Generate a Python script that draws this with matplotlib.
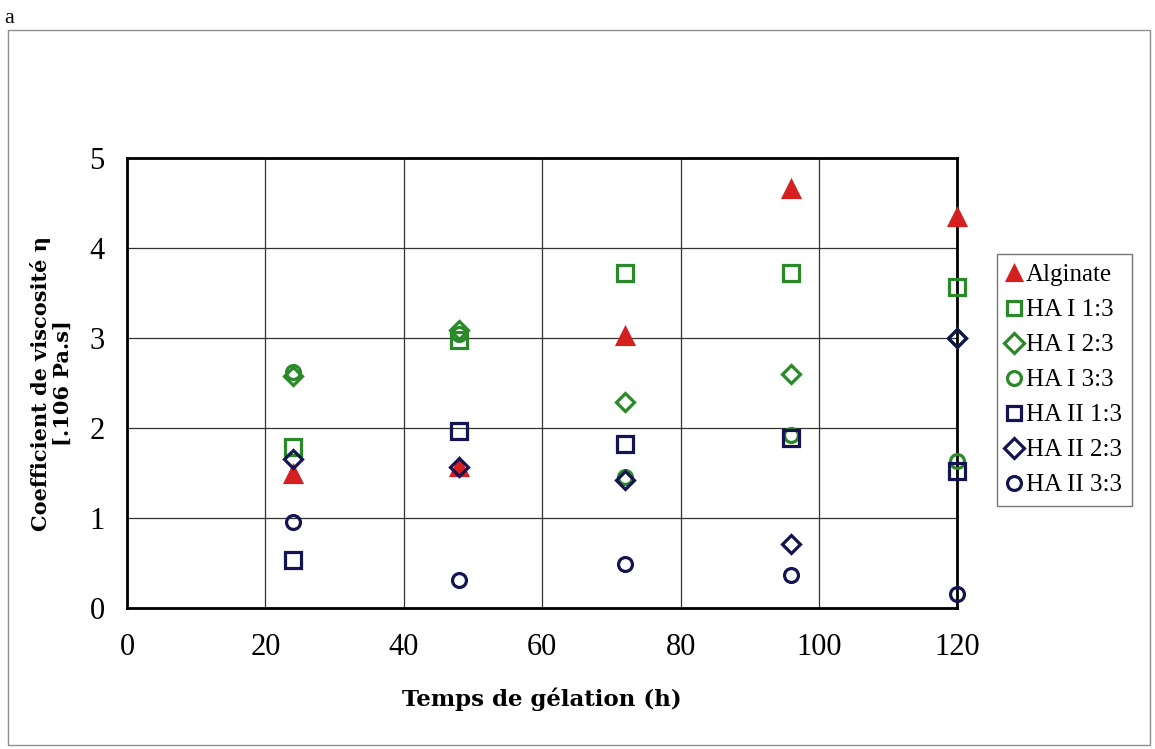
import matplotlib
matplotlib.use("Agg")
import matplotlib.pyplot as plt
from matplotlib.patches import Rectangle

# gelation time (h)
temps = [24, 48, 72, 96, 120]

alginate = [1.49, 1.57, 3.02, 4.66, 4.34]
ha1_13 = [1.79, 2.98, 3.72, 3.72, 3.57]
ha1_23 = [2.58, 3.09, 2.29, 2.60, 3.00]
ha1_33 = [2.62, 3.05, 1.46, 1.92, 1.64]
ha2_13 = [0.54, 1.97, 1.82, 1.89, 1.52]
ha2_23 = [1.66, 1.57, 1.42, 0.71, 3.00]
ha2_33 = [0.96, 0.31, 0.49, 0.37, 0.16]

labels = ["Alginate", "HA I 1:3", "HA I 2:3", "HA I 3:3",
          "HA II 1:3", "HA II 2:3", "HA II 3:3"]
xticks = [0, 20, 40, 60, 80, 100, 120]
yticks = [0, 1, 2, 3, 4, 5]

green = "#2a8a2a"
navy = "#141450"
red = "#d42020"

plt.rcParams["font.family"] = ["Liberation Serif", "DejaVu Serif"]

fig = plt.figure(figsize=(11.55, 7.49), dpi=100)
fig.patches.append(Rectangle((0.007, 0.005), 0.989, 0.955, transform=fig.transFigure,
                             fill=False, edgecolor="#909090", linewidth=1.0))
fig.text(0.004, 0.975, "a", fontsize=16, va="center")

ax = fig.add_axes([0.110, 0.188, 0.719, 0.601])

series = [
    (alginate, "^", red, True),
    (ha1_13, "s", green, False),
    (ha1_23, "D", green, False),
    (ha1_33, "o", green, False),
    (ha2_13, "s", navy, False),
    (ha2_23, "D", navy, False),
    (ha2_33, "o", navy, False),
]
sizes = {"^": 12, "s": 11, "D": 9, "o": 10}
order = [1, 2, 3, 0, 4, 5, 6]
handles = [None] * len(series)
for i in order:
    vals, mk, col, filled = series[i]
    h, = ax.plot(temps, vals, linestyle="none", marker=mk, markersize=sizes[mk],
                 markerfacecolor=col if filled else "none", markeredgecolor=col,
                 markeredgewidth=2.3, label=labels[i], clip_on=False, zorder=3 + i)
    handles[i] = h

ax.set_xlim(0, 120)
ax.set_ylim(0, 5)
ax.set_xticks(xticks)
ax.set_yticks(yticks)
ax.tick_params(axis="x", length=0, labelsize=22, pad=18)
ax.tick_params(axis="y", length=0, labelsize=22, pad=16)
ax.grid(True, color="#333333", linewidth=0.9)
ax.set_axisbelow(True)
for sp in ax.spines.values():
    sp.set_linewidth(2)
    sp.set_color("black")

ax.set_xlabel("Temps de gélation (h)", fontsize=16.5, fontweight="bold",
              family=["DejaVu Serif"], labelpad=18)
ax.set_ylabel("Coefficient de viscosité η\n[.106 Pa.s]", fontsize=15, fontweight="bold",
              family=["DejaVu Serif"], labelpad=12, linespacing=1.15)

leg = fig.legend(handles=handles, labels=labels, loc="upper left",
                 bbox_to_anchor=(0.863, 0.661), fontsize=18, frameon=True,
                 fancybox=False, edgecolor="#555555", handlelength=0.6,
                 handletextpad=0.15, borderpad=0.4, labelspacing=0.5,
                 borderaxespad=0)
leg.get_frame().set_linewidth(1.0)
for h in leg.legend_handles:
    h.set_markersize(10)

fig.savefig("out.png", dpi=100)
